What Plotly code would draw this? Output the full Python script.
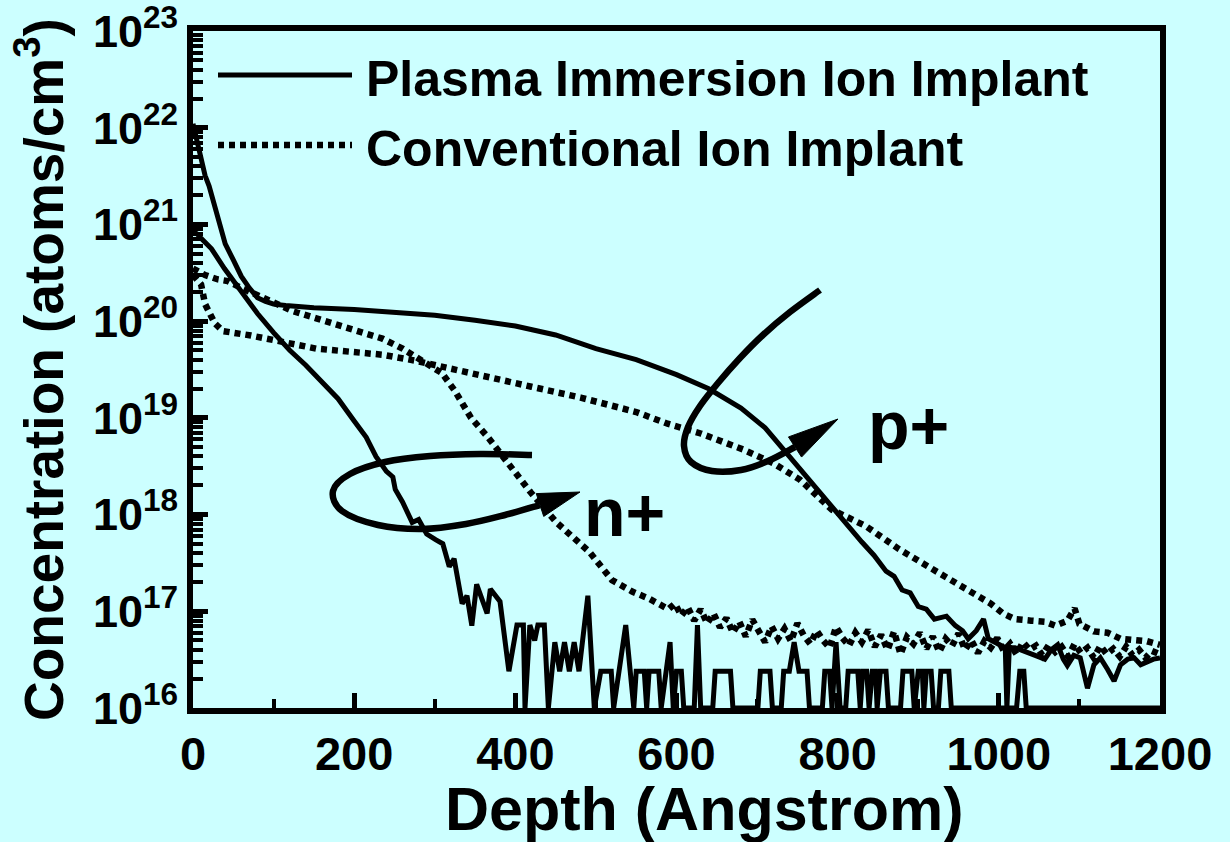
import plotly.graph_objects as go

BG = "#CCFFFF"
FONT = "Liberation Sans"

# ---------------- data (depth in Angstrom, concentration in atoms/cm^3) ----------------
piii_p = [(0, 1.1e22), (5, 7.1e21), (10, 4.5e21), (15, 3.2e21), (20, 2.5e21), (30, 1.26e21),
          (40, 6.3e20), (50, 4.3e20), (60, 2.9e20), (70, 2.2e20), (80, 1.75e20), (90, 1.6e20),
          (100, 1.5e20), (115, 1.45e20), (130, 1.41e20), (150, 1.38e20), (200, 1.32e20),
          (250, 1.23e20), (300, 1.15e20), (350, 1.02e20), (400, 8.9e19), (450, 7.2e19),
          (500, 5.2e19), (550, 4.0e19), (600, 2.8e19), (640, 2.0e19), (680, 1.26e19),
          (710, 7.9e18), (740, 4.0e18), (770, 2.0e18), (800, 1.0e18), (830, 5.2e17),
          (845, 3.8e17), (860, 2.6e17), (870, 2.3e17), (880, 1.66e17), (890, 1.55e17),
          (900, 1.12e17), (910, 1.05e17), (920, 8.3e16), (935, 8.9e16), (946, 7.1e16),
          (955, 6.3e16), (962, 5.2e16), (972, 6.3e16), (981, 8.3e16), (987, 5.2e16),
          (995, 4.8e16), (1003, 4.4e16), (1008, 4.2e16), (1010, 1.0e16), (1013, 4.2e16),
          (1020, 4.2e16), (1028, 4.0e16), (1036, 3.8e16), (1045, 3.5e16), (1057, 3.2e16),
          (1065, 4.0e16), (1073, 4.5e16), (1080, 3.2e16), (1085, 2.75e16), (1093, 3.5e16),
          (1101, 3.3e16), (1110, 1.6e16), (1118, 2.8e16), (1126, 3.3e16), (1135, 2.5e16),
          (1143, 1.9e16), (1151, 2.8e16), (1160, 3.2e16), (1168, 3.3e16), (1176, 2.8e16),
          (1184, 3.0e16), (1192, 3.2e16), (1200, 3.3e16)]

piii_n = [(0, 8.5e20), (5, 8.0e20), (10, 7.2e20), (23, 5.6e20), (39, 3.5e20), (60, 2.0e20),
          (80, 1.2e20), (100, 7.6e19), (120, 5.0e19), (140, 3.5e19), (160, 2.4e19),
          (180, 1.58e19), (200, 9.3e18), (215, 6.3e18), (227, 4.0e18), (240, 2.8e18),
          (248, 2.45e18), (251, 1.82e18), (260, 1.35e18), (272, 8.3e17), (280, 8.9e17),
          (290, 6.3e17), (301, 5.5e17), (310, 5.0e17), (318, 2.9e17), (324, 3.5e17),
          (334, 1.2e17), (340, 1.45e17), (346, 7.1e16), (352, 1.9e17), (365, 9.5e16),
          (369, 1.7e17), (381, 1.26e17), (392, 2.4e16), (402, 7.2e16), (410, 7.2e16),
          (412, 1e16), (418, 7.2e16), (424, 5.0e16), (428, 7.2e16), (436, 7.2e16),
          (441, 1e16), (449, 4.8e16), (455, 2.4e16), (461, 4.8e16), (467, 2.4e16),
          (473, 4.8e16), (479, 2.4e16), (490, 1.45e17), (498, 1e16), (506, 2.4e16),
          (519, 2.4e16), (522, 1e16), (537, 7.2e16), (547, 1e16), (550, 2.4e16),
          (560, 2.4e16), (563, 1e16), (566, 2.4e16), (578, 2.4e16), (581, 1e16),
          (592, 4.8e16), (596, 1e16), (600, 2.4e16), (606, 2.4e16), (609, 1e16),
          (622, 1e16), (626, 7.2e16), (630, 1e16), (645, 1e16), (648, 2.4e16),
          (667, 2.4e16), (670, 1e16), (701, 1e16), (704, 2.4e16), (716, 2.4e16),
          (719, 1e16), (730, 1e16), (733, 2.4e16), (740, 2.4e16), (746, 4.8e16),
          (752, 2.4e16), (762, 2.4e16), (765, 1e16), (781, 1e16), (784, 2.4e16),
          (790, 2.4e16), (793, 1e16), (798, 4.8e16), (803, 1e16), (810, 1e16),
          (813, 2.4e16), (825, 2.4e16), (828, 1e16), (831, 2.4e16), (836, 2.4e16),
          (839, 1e16), (843, 2.4e16), (847, 2.4e16), (849, 1e16), (853, 2.4e16),
          (860, 2.4e16), (863, 1e16), (878, 1e16), (881, 2.4e16), (892, 2.4e16),
          (895, 1e16), (900, 2.4e16), (905, 2.4e16), (907, 1e16), (910, 2.4e16),
          (916, 2.4e16), (919, 1e16), (925, 1e16), (928, 2.4e16), (938, 2.4e16),
          (941, 1e16), (1022, 1e16), (1026, 2.4e16), (1031, 2.4e16), (1034, 1e16),
          (1200, 1e16)]

conv_p = [(0, 3.0e20), (10, 2.4e20), (15, 1.5e20), (21, 1.2e20), (27, 9.5e19), (37, 7.9e19),
          (49, 7.6e19), (72, 7.1e19), (153, 5.2e19), (235, 4.5e19), (276, 3.9e19),
          (358, 2.8e19), (420, 2.1e19), (481, 1.62e19), (507, 1.41e19), (550, 1.15e19),
          (589, 8.7e18), (630, 6.9e18), (683, 4.7e18), (720, 3.4e18), (753, 2.3e18),
          (793, 1.12e18), (835, 7.6e17), (876, 4.4e17), (917, 2.75e17), (940, 2.1e17),
          (958, 1.7e17), (975, 1.4e17), (990, 1.2e17), (1005, 9.5e16), (1020, 8.3e16),
          (1040, 8.0e16), (1057, 7.8e16), (1070, 7.1e16), (1085, 8.0e16), (1094, 1.07e17),
          (1100, 7.4e16), (1118, 6.2e16), (1135, 6.0e16), (1151, 5.2e16), (1168, 5.0e16),
          (1184, 4.9e16), (1200, 4.5e16)]

conv_n = [(0, 3.5e20), (15, 3.0e20), (31, 2.7e20), (43, 2.6e20), (60, 2.2e20), (90, 1.7e20),
          (125, 1.26e20), (153, 1.07e20), (195, 8.3e19), (235, 6.6e19), (260, 5.2e19),
          (284, 3.9e19), (309, 2.9e19), (325, 1.9e19), (345, 1.0e19), (366, 6.3e18),
          (394, 3.1e18), (419, 1.7e18), (451, 8.3e17), (492, 4.1e17), (520, 2.1e17),
          (545, 1.6e17), (566, 1.35e17), (590, 1.05e17), (598, 1.2e17), (606, 9.0e16),
          (614, 1.1e17), (622, 8.0e16), (630, 1.05e17), (638, 7.5e16), (646, 9.5e16),
          (654, 6.8e16), (662, 8.5e16), (670, 6.0e16), (678, 7.8e16), (686, 5.5e16),
          (694, 8.2e16), (702, 6.2e16), (710, 4.8e16), (718, 7.0e16), (726, 5.2e16),
          (734, 6.6e16), (742, 4.9e16), (750, 7.5e16), (758, 5.6e16), (766, 4.6e16),
          (774, 6.3e16), (782, 5.0e16), (790, 4.2e16), (798, 6.9e16), (806, 5.3e16),
          (814, 4.4e16), (822, 6.0e16), (830, 4.8e16), (838, 6.4e16), (846, 4.3e16),
          (854, 5.7e16), (862, 4.0e16), (870, 6.2e16), (878, 3.6e16), (886, 5.4e16),
          (894, 4.6e16), (902, 6.0e16), (910, 4.1e16), (918, 5.5e16), (926, 3.8e16),
          (934, 5.2e16), (942, 4.4e16), (950, 5.9e16), (958, 4.0e16), (966, 5.0e16),
          (974, 3.7e16), (982, 4.9e16), (990, 4.2e16), (998, 5.3e16), (1006, 3.9e16),
          (1014, 4.6e16), (1022, 3.6e16), (1030, 4.8e16), (1038, 4.0e16), (1046, 4.4e16),
          (1054, 3.5e16), (1062, 4.5e16), (1070, 3.8e16), (1078, 4.3e16), (1086, 3.4e16),
          (1094, 4.6e16), (1102, 3.7e16), (1110, 4.2e16), (1118, 3.3e16), (1126, 4.4e16),
          (1134, 3.6e16), (1142, 4.1e16), (1150, 3.4e16), (1158, 4.3e16), (1166, 3.5e16),
          (1174, 4.0e16), (1182, 3.3e16), (1190, 3.9e16), (1200, 3.6e16)]

x_ticks = [0, 200, 400, 600, 800, 1000, 1200]
y_exponents = [16, 17, 18, 19, 20, 21, 22, 23]
y_ticks = [10.0 ** e for e in y_exponents]
y_ticktext = ["10<sup>%d</sup>" % e for e in y_exponents]
y_minor = [k * 10.0 ** e for e in y_exponents[:-1] for k in range(2, 10)]

legend_names = ["Plasma Immersion Ion Implant", "Conventional Ion Implant"]
labels = ["n+", "p+"]
x_title = "Depth (Angstrom)"
y_title = "Concentration (atoms/cm<sup>3</sup>)"

# ---------------- geometry (pixels of the 1230x842 canvas) ----------------
W, H = 1230, 842
L, R, T, B = 193, 1160, 31, 708
DOT = "6px,5px"
DOT_W = 6.5


def to_paper(px, py):
    return (px - L) / (R - L), (B - py) / (B - T)


fig = go.Figure()
for series, dash, name in ((piii_p, "solid", legend_names[0] + " p+"),
                           (piii_n, "solid", legend_names[0] + " n+"),
                           (conv_p, DOT, legend_names[1] + " p+"),
                           (conv_n, DOT, legend_names[1] + " n+")):
    fig.add_trace(go.Scatter(
        x=[d for d, _ in series], y=[c for _, c in series], mode="lines", name=name,
        line=dict(color="black", width=5 if dash == "solid" else DOT_W, dash=dash),
        showlegend=False, hoverinfo="skip"))

shapes = []
annotations = []

# custom legend
for name, dash, py in ((legend_names[0], "solid", 75), (legend_names[1], DOT, 145)):
    x0, y0 = to_paper(218, py)
    x1, _ = to_paper(352, py)
    shapes.append(dict(type="line", xref="paper", yref="paper", x0=x0, x1=x1, y0=y0, y1=y0,
                       line=dict(color="black", width=5 if dash == "solid" else DOT_W, dash=dash)))
    tx, ty = to_paper(364, py + 4)
    annotations.append(dict(text="<b>%s</b>" % name, xref="paper", yref="paper", x=tx, y=ty,
                            xanchor="left", yanchor="middle", showarrow=False,
                            font=dict(family=FONT, size=50, color="black")))

# n+/p+ labels
for text, (px, py) in zip(labels, ((624, 512), (908, 425))):
    ax_, ay_ = to_paper(px, py)
    annotations.append(dict(text="<b>%s</b>" % text, xref="paper", yref="paper", x=ax_, y=ay_,
                            xanchor="center", yanchor="middle", showarrow=False,
                            font=dict(family=FONT, size=68, color="black")))

# x axis title (placed as text, centred where the reference has it)
xt, yt = to_paper(704, 809)
annotations.append(dict(text="<b>%s</b>" % x_title, xref="paper", yref="paper", x=xt, y=yt,
                        xanchor="center", yanchor="middle", showarrow=False,
                        font=dict(family=FONT, size=61, color="black")))


def smooth_path(pts):
    P = [to_paper(x, y) for x, y in pts]
    d = "M %.5f,%.5f" % P[0]
    n = len(P)
    for i in range(n - 1):
        p0 = P[i - 1] if i > 0 else P[i]
        p1 = P[i]
        p2 = P[i + 1]
        p3 = P[i + 2] if i + 2 < n else P[i + 1]
        c1 = (p1[0] + (p2[0] - p0[0]) / 6, p1[1] + (p2[1] - p0[1]) / 6)
        c2 = (p2[0] - (p3[0] - p1[0]) / 6, p2[1] - (p3[1] - p1[1]) / 6)
        d += " C %.5f,%.5f %.5f,%.5f %.5f,%.5f" % (c1 + c2 + p2)
    return d


def head_path(base, tip, half):
    bx, by = base
    tx, ty = tip
    dx, dy = tx - bx, ty - by
    ln = (dx * dx + dy * dy) ** 0.5
    nx, ny = -dy / ln * half, dx / ln * half
    pts = [to_paper(tx, ty), to_paper(bx + nx, by + ny), to_paper(bx - nx, by - ny)]
    return "M %.5f,%.5f L %.5f,%.5f L %.5f,%.5f Z" % (pts[0] + pts[1] + pts[2])


n_loop = [(532, 455), (480, 454), (430, 456), (385, 462), (350, 474), (333, 491), (342, 511),
          (378, 525), (422, 529), (466, 524), (505, 515), (540, 505)]
p_loop = [(820, 290), (790, 312), (764, 334), (740, 358), (718, 383), (700, 406), (688, 427),
          (684, 446), (691, 462), (712, 471), (741, 470), (768, 461), (795, 447)]

for loop, tip in ((n_loop, (580, 492)), (p_loop, (838, 419))):
    shapes.append(dict(type="path", xref="paper", yref="paper", path=smooth_path(loop),
                       line=dict(color="black", width=6.5)))
    shapes.append(dict(type="path", xref="paper", yref="paper", path=head_path(loop[-1], tip, 12),
                       fillcolor="black", line=dict(color="black", width=1)))

fig.update_layout(
    width=W, height=H,
    margin=dict(l=L, r=W - R, t=T, b=H - B, pad=0, autoexpand=False),
    paper_bgcolor=BG, plot_bgcolor=BG,
    font=dict(family=FONT, color="black"),
    showlegend=False,
    shapes=shapes, annotations=annotations,
)

fig.update_xaxes(
    range=[0, 1200], tickmode="array", tickvals=x_ticks, automargin=False,
    ticks="inside", ticklen=15, tickwidth=5, tickcolor="black",
    showline=True, linewidth=6, linecolor="black", mirror=True,
    showgrid=False, zeroline=False, ticklabeloverflow="allow",
    tickfont=dict(family=FONT, size=47, color="black", weight="bold"),
    minor=dict(tickmode="linear", tick0=0, dtick=100, ticks="inside", ticklen=9, tickwidth=4,
               tickcolor="black", showgrid=False),
)

fig.update_yaxes(
    type="log", range=[16, 23.0005], tickmode="array", tickvals=y_ticks, ticktext=y_ticktext,
    automargin=False,
    ticks="inside", ticklen=15, tickwidth=5, tickcolor="black",
    showline=True, linewidth=6, linecolor="black", mirror=True,
    showgrid=False, zeroline=False, ticklabeloverflow="allow",
    tickfont=dict(family=FONT, size=45, color="black", weight="bold"),
    title=dict(text="<b>%s</b>" % y_title,
               font=dict(family=FONT, size=55, color="black"), standoff=14),
    minor=dict(tickmode="array", tickvals=y_minor, ticks="inside", ticklen=10, tickwidth=4,
               tickcolor="black", showgrid=False),
)

fig.write_html("out.html", config={"displayModeBar": False},
               post_script="document.body.style.margin='0px';")
